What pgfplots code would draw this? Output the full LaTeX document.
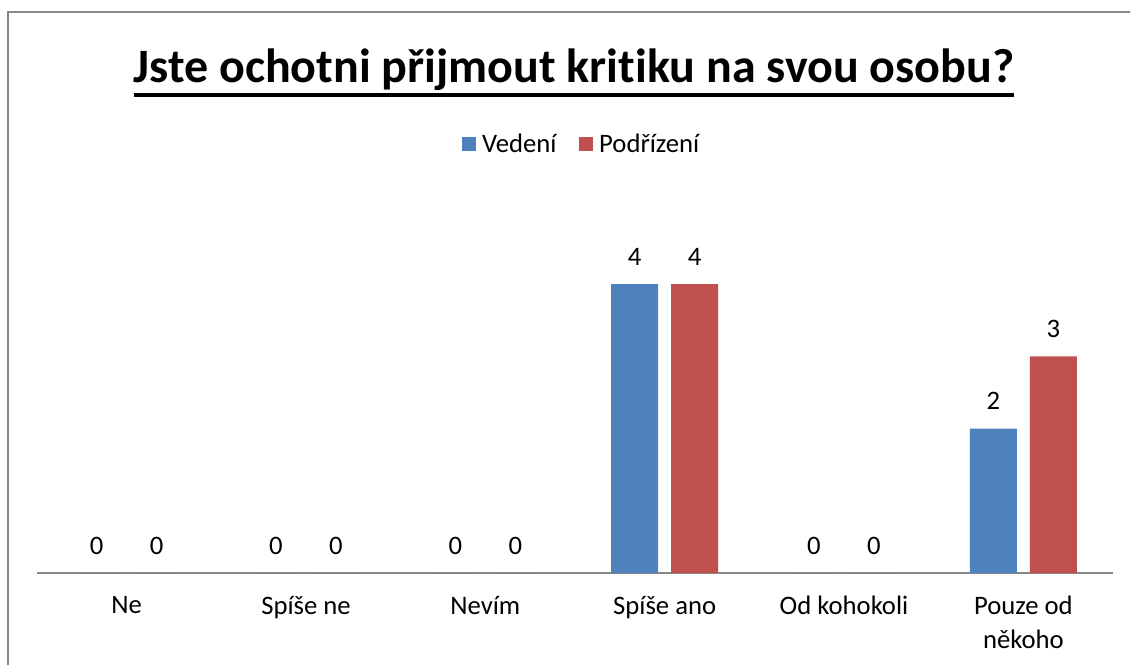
\documentclass[border=0pt]{standalone}
\usepackage{pgfplots}
\pgfplotsset{compat=1.18}
\usepackage{fontspec}
\setmainfont{Carlito}[Ligatures=NoCommon]
\definecolor{cblue}{HTML}{4F81BD}
\definecolor{cred}{HTML}{C0504D}
\definecolor{frame}{HTML}{878787}
\begin{document}
\begin{tikzpicture}[x=0.75pt,y=0.75pt]
\path[use as bounding box] (0,0) rectangle (1130,665);
\draw[frame,line width=1.5pt] (8,0) -- (8,653) -- (1131,653);
\node[anchor=base,font=\fontsize{36}{42}\selectfont\bfseries,inner sep=0pt] (t) at (574,582) {Jste ochotni přijmout kritiku na svou osobu?};
\draw[line width=3pt] ([yshift=-9pt]t.base west) -- ([yshift=-9pt]t.base east);
\draw[frame, line width=1.3pt] (37,92) -- (1113,92);
\begin{axis}[
  at={(95pt,69pt)}, anchor=origin,
  width=807pt, height=270.75pt, scale only axis,
  xmin=-0.5, xmax=5.5, ymin=0, ymax=5, enlargelimits=false,
  axis x line*=bottom, axis y line=none,
  x axis line style={draw=none},
  xtick={0,1,2,3,4,5},
  xticklabels={Ne,Spíše ne,Nevím,Spíše ano,Od kohokoli,{Pouze od\\někoho}},
  xticklabel style={align=center, font=\fontsize{20}{25.5}\selectfont, yshift=-14pt},
  major tick length=0pt,
  /pgf/number format/assume math mode=true,
  ybar, bar width=35.25pt,
  clip=false,
  nodes near coords,
  every node near coord/.append style={font=\fontsize{20}{24}\selectfont, color=black, yshift=10.5pt},
  legend style={at={(0.5065,1.188)}, anchor=center, draw=none, legend columns=2,
    font=\fontsize{20}{24}\selectfont, column sep=2.5pt,
    nodes={inner xsep=2pt},
    /tikz/every even column/.append style={column sep=15pt}},
  legend image code/.code={\fill[#1] (0pt,-5pt) rectangle (10.5pt,5.5pt);},
]
\addplot[fill=cblue, draw=none, bar shift=-22.5pt] coordinates {(0,0) (1,0) (2,0) (3,4) (4,0) (5,2)};
\addplot[fill=cred, draw=none, bar shift=22.5pt] coordinates {(0,0) (1,0) (2,0) (3,4) (4,0) (5,3)};
\legend{Vedení,Podřízení}
\end{axis}
\end{tikzpicture}
\end{document}
